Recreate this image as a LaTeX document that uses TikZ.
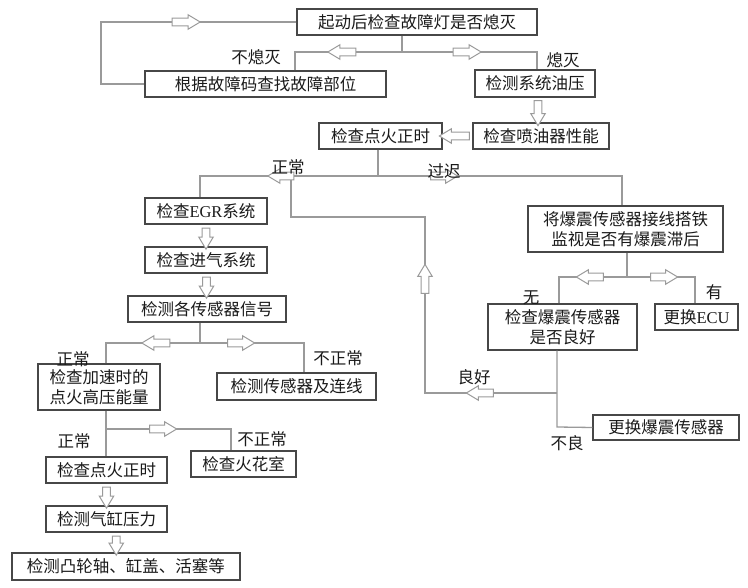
\documentclass[tikz,border=0pt]{standalone}
\usepackage{fontspec}
\setmainfont{Noto Sans CJK SC}
\newfontfamily\lat{Liberation Serif}
\usetikzlibrary{shapes.arrows,calc}
\definecolor{ln}{HTML}{9A9A9A}
\definecolor{bx}{HTML}{474747}
\definecolor{tx}{HTML}{1A1A1A}
\tikzset{
  box/.style={draw=bx, line width=1.4pt, inner sep=0pt, text=tx,
    font=\fontsize{16.5}{20}\selectfont, align=center},
  conn/.style={draw=ln, line width=1.3pt},
  harrow/.style={single arrow, draw=ln, fill=white, line width=1pt,
    inner xsep=0pt, inner ysep=3.3pt, single arrow head extend=3.5pt,
    single arrow tip angle=62, minimum height=28pt},
  lbl/.style={text=tx, inner sep=0pt, font=\fontsize{16.5}{20}\selectfont},
}
\begin{document}
\begin{tikzpicture}[x=1pt,y=-1pt]
\useasboundingbox[fill=white] (0,0) rectangle (748,588);

% boxes
\node[box, minimum width=240pt, minimum height=26pt] (top) at (417,22) {起动后检查故障灯是否熄灭};
\node[box, minimum width=241pt, minimum height=26pt] (gz) at (265.5,84) {根据故障码查找故障部位};
\node[box, minimum width=120pt, minimum height=27pt] (yy) at (535,83.5) {检测系统油压};
\node[box, minimum width=136pt, minimum height=26pt] (pyq) at (541,136) {检查喷油器性能};
\node[box, minimum width=123pt, minimum height=26pt] (dh1) at (380.5,136) {检查点火正时};
\node[box, minimum width=195pt, minimum height=46pt] (bz) at (625.5,229) {将爆震传感器接线搭铁\\监视是否有爆震滞后};
\node[box, minimum width=122pt, minimum height=26pt] (egr) at (206,211) {检查{\lat EGR}系统};
\node[box, minimum width=122pt, minimum height=26pt] (jq) at (206,260) {检查进气系统};
\node[box, minimum width=158pt, minimum height=26pt] (cgq) at (207,309) {检测各传感器信号};
\node[box, minimum width=122pt, minimum height=46pt] (jsd) at (99,387) {检查加速时的\\点火高压能量};
\node[box, minimum width=159pt, minimum height=27pt] (cgl) at (296.5,386.5) {检测传感器及连线};
\node[box, minimum width=149pt, minimum height=46pt] (bzc) at (562.5,327) {检查爆震传感器\\是否良好};
\node[box, minimum width=83pt, minimum height=26pt] (ecu) at (696.5,317) {更换{\lat ECU}};
\node[box, minimum width=146pt, minimum height=25pt] (ghbz) at (666,427.5) {更换爆震传感器};
\node[box, minimum width=105pt, minimum height=26pt] (hhs) at (243.5,464) {检查火花室};
\node[box, minimum width=121pt, minimum height=26pt] (dh2) at (106.5,470) {检查点火正时};
\node[box, minimum width=121pt, minimum height=26pt] (qg) at (106.5,519) {检测气缸压力};
\node[box, minimum width=228pt, minimum height=27pt] (tl) at (126,566.5) {检测凸轮轴、缸盖、活塞等};

% junction coordinates
\coordinate (lt) at (101,22);
\coordinate (j1) at (402,52);
\coordinate (aL) at (295,52);
\coordinate (aR) at (537,52);
\coordinate (j2) at (378,176);
\coordinate (bL) at (200,176);
\coordinate (bR) at (622,176);
\coordinate (c1) at (291,176);
\coordinate (c2) at (291,217);
\coordinate (c3) at (425,217);
\coordinate (c4) at (425,393);
\coordinate (c5) at (557,393);
\coordinate (j3) at (627,277);
\coordinate (dL) at (559,277);
\coordinate (dR) at (695,277);
\coordinate (e1) at (557,427);
\coordinate (j4) at (200,343);
\coordinate (fL) at (106,343);
\coordinate (fR) at (304,343);
\coordinate (g1) at (106,429);
\coordinate (g2) at (231,429);

% connectors
\draw[conn] (top.west) -- (lt) -- (lt |- gz.west) -- (gz.west);
\draw[conn] (top.south -| j1) -- (j1);
\draw[conn] (gz.north -| aL) -- (aL) -- (aR) -- (yy.north -| aR);
\draw[conn] (dh1.south -| j2) -- (j2);
\draw[conn] (egr.north -| bL) -- (bL) -- (bR) -- (bz.north -| bR);
\draw[conn] (c1) -- (c2) -- (c3) -- (c4) -- (c5);
\draw[conn] (bz.south -| j3) -- (j3);
\draw[conn] (bzc.north -| dL) -- (dL) -- (dR) -- (ecu.north -| dR);
\draw[conn] (bzc.south -| e1) -- (e1) -- (ghbz.west);
\draw[conn] (cgq.south -| j4) -- (j4);
\draw[conn] (jsd.north -| fL) -- (fL) -- (fR) -- (cgl.north -| fR);
\draw[conn] (jsd.south -| g1) -- (dh2.north -| g1);
\draw[conn] (g1) -- (g2) -- (hhs.north -| g2);

% hollow arrows
\node[harrow] (h1) at (183,22) {};
\node[harrow, rotate=180] (h2) at (345,52) {};
\node[harrow] (h3) at (464,52) {};
\node[harrow, rotate=-90, minimum height=25pt] (h4) at ($(yy.south)!0.5!(pyq.north)$) {};
\node[harrow, rotate=180, minimum height=30pt] (h5) at ($(pyq.west)!0.5!(dh1.east)$) {};
\node[harrow, rotate=180, minimum height=26pt] (h6) at (284,176) {};
\node[harrow, minimum height=27pt] (h7) at (441,176) {};
\node[harrow, rotate=90, minimum height=29pt] (h8) at (425,282) {};
\node[harrow, rotate=180, minimum height=27pt] (h9) at (483,393) {};
\node[harrow, rotate=180, minimum height=27pt] (h10) at (593,277) {};
\node[harrow, minimum height=27pt] (h11) at (661,277) {};
\node[harrow, rotate=-90, minimum height=21pt] (h12) at ($(egr.south)!0.5!(jq.north)$) {};
\node[harrow, rotate=-90, minimum height=21pt] (h13) at ($(jq.south)!0.5!(cgq.north)$) {};
\node[harrow, rotate=180, minimum height=28pt] (h14) at (159,343) {};
\node[harrow, minimum height=27pt] (h15) at (238,343) {};
\node[harrow, minimum height=27pt] (h16) at (160,429) {};
\node[harrow, rotate=-90, minimum height=21pt] (h17) at ($(dh2.south)!0.5!(qg.north)$) {};
\node[harrow, rotate=-90, minimum height=19pt] (h18) at ($(qg.south)!0.5!(tl.north)$) {};

% labels
\node[lbl] (l1) at (256,57) {不熄灭};
\node[lbl] (l2) at (563,60) {熄灭};
\node[lbl] (l3) at (288,167) {正常};
\node[lbl] (l4) at (444,171) {过迟};
\node[lbl] (l5) at (531,298) {无};
\node[lbl] (l6) at (714,292) {有};
\node[lbl] (l7) at (474,377) {良好};
\node[lbl] (l8) at (567,443) {不良};
\node[lbl] (l9) at (73,359) {正常};
\node[lbl] (l10) at (338,358) {不正常};
\node[lbl] (l11) at (74,441) {正常};
\node[lbl] (l12) at (262,439) {不正常};
\end{tikzpicture}
\end{document}
